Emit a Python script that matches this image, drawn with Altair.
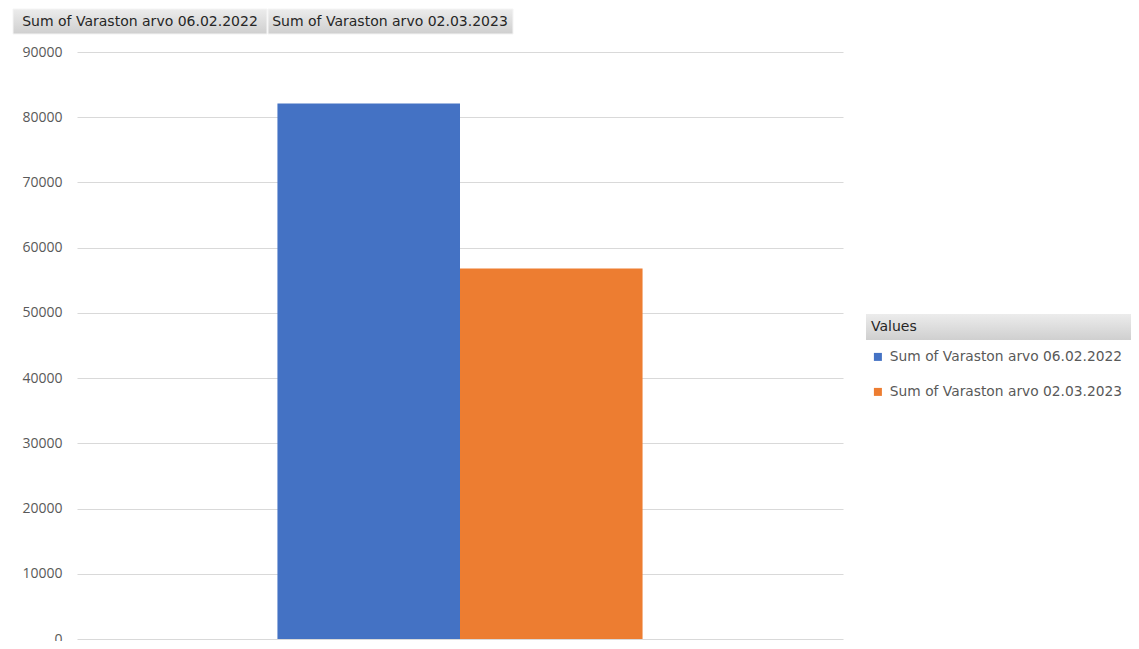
import altair as alt
import pandas as pd

series = ["Sum of Varaston arvo 06.02.2022", "Sum of Varaston arvo 02.03.2023"]
values = [82100, 56800]
colors = ["#4472C4", "#ED7D31"]
y_ticks = [0, 10000, 20000, 30000, 40000, 50000, 60000, 70000, 80000, 90000]
legend_title = "Values"
category = "Total"

df = pd.DataFrame({"cat": [category] * len(series), "series": series, "value": values})
one = pd.DataFrame({"k": [0]})

FONT = "DejaVu Sans"
AXFONT = "Open Sans"

grad = alt.LinearGradient(
    gradient="linear",
    x1=0, x2=0, y1=0, y2=1,
    stops=[alt.GradientStop(color="#ececec", offset=0),
           alt.GradientStop(color="#cfcfcf", offset=1)],
)

bars = alt.Chart(df).mark_bar(stroke=None).encode(
    x=alt.X("cat:N", axis=None,
            scale=alt.Scale(paddingInner=0, paddingOuter=0.549)),
    xOffset=alt.XOffset("series:N", sort=series,
                        scale=alt.Scale(paddingInner=0, paddingOuter=0)),
    y=alt.Y("value:Q",
            scale=alt.Scale(domain=[0, 90000], nice=False),
            axis=alt.Axis(values=y_ticks, title=None, ticks=False, domain=False,
                          labelFont=AXFONT, labelFontSize=14, labelColor="#595959",
                          labelPadding=15, gridColor="#d9d9d9", gridWidth=1.2,
                          format="d")),
    color=alt.Color("series:N", sort=series,
                    scale=alt.Scale(domain=series, range=colors),
                    legend=alt.Legend(title=legend_title, orient="none",
                                      legendX=794, legendY=268,
                                      titleFont=FONT, titleFontSize=14,
                                      titleFontWeight="normal", titleColor="#262626",
                                      titleBaseline="top", titlePadding=16,
                                      labelFont=FONT, labelFontSize=13.8,
                                      labelColor="#595959", labelOffset=5,
                                      labelLimit=400,
                                      symbolType="square", symbolSize=64,
                                      symbolStrokeWidth=0, symbolOffset=0,
                                      rowPadding=20, padding=0)),
)

# pivot field buttons and legend header (decorations)
btn1 = alt.Chart(one).mark_rect(fill=grad, stroke="#f4f4f4", strokeWidth=1).encode(
    x=alt.value(-64), x2=alt.value(190), y=alt.value(-43), y2=alt.value(-18))
btn2 = alt.Chart(one).mark_rect(fill=grad, stroke="#f4f4f4", strokeWidth=1).encode(
    x=alt.value(191), x2=alt.value(436), y=alt.value(-43), y2=alt.value(-18))
txt1 = alt.Chart(one).mark_text(font=FONT, fontSize=14, color="#262626", align="center", baseline="middle").encode(
    x=alt.value(63), y=alt.value(-30), text=alt.value(series[0]))
txt2 = alt.Chart(one).mark_text(font=FONT, fontSize=14, color="#262626", align="center", baseline="middle").encode(
    x=alt.value(313), y=alt.value(-30), text=alt.value(series[1]))
hdr = alt.Chart(one).mark_rect(fill=grad).encode(
    x=alt.value(789), x2=alt.value(1054), y=alt.value(262), y2=alt.value(288))

chart = alt.layer(hdr, btn1, btn2, txt1, txt2, bars).properties(
    width=766, height=587,
    background="white",
    autosize=alt.AutoSizeParams(type="none"),
    padding={"left": 69, "top": 44, "right": 288, "bottom": 2},
).configure_view(stroke=None)

chart.save("out.html", embed_options={"renderer": "svg", "actions": False})
